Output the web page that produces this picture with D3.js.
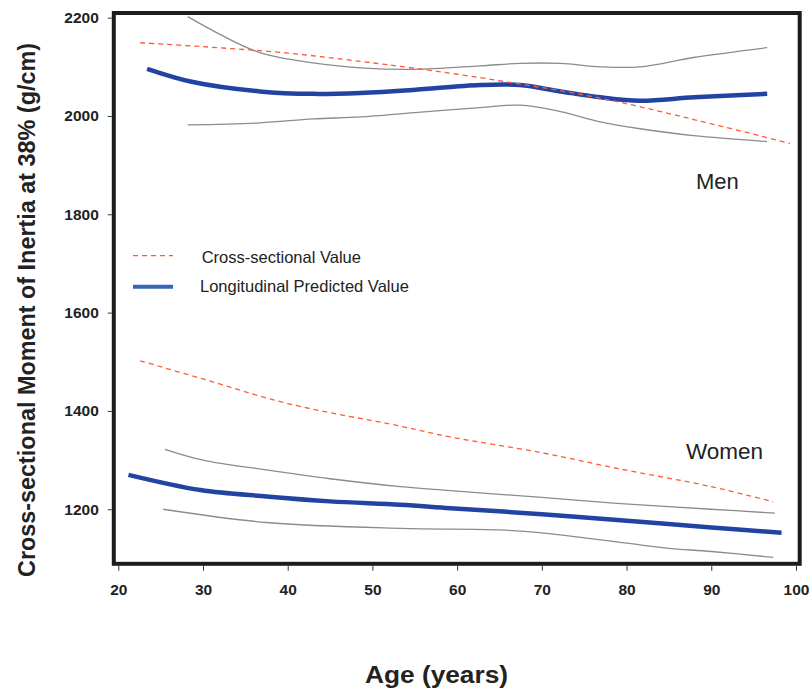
<!DOCTYPE html>
<html>
<head>
<meta charset="utf-8">
<script src="https://cdn.jsdelivr.net/npm/d3@7/dist/d3.min.js"></script>
<style>
  html, body { margin: 0; padding: 0; background: #ffffff; }
  svg { display: block; font-family: "Liberation Sans", Arial, sans-serif; }
</style>
</head>
<body>
<div id="chart"></div>
<script>
// values
const xTicks = [20, 30, 40, 50, 60, 70, 80, 90, 100];
const yTicks = [1200, 1400, 1600, 1800, 2000, 2200];

const menCrossAge = [22.6, 30, 40, 48.6, 55, 62.7, 67.4, 72, 78.4, 85, 90, 95.7, 99.3];
const menCrossVal = [2149, 2141, 2128, 2111, 2097, 2078, 2065, 2052, 2031, 2005, 1984, 1960, 1944];

const menLongAge = [23.4, 28.8, 36.7, 43, 48.6, 54.8, 62.7, 67.4, 72.2, 76.9, 81.6, 88, 96.6];
const menLongVal = [2096, 2069, 2050, 2045, 2047, 2053, 2063, 2063, 2050, 2038, 2031, 2038, 2045];

const menUpperAge = [28.2, 32, 36.7, 43, 48.6, 54.8, 62.7, 67.4, 72.2, 76.9, 81.6, 87.9, 96.6];
const menUpperVal = [2202, 2166, 2129, 2108, 2098, 2095, 2102, 2107, 2107, 2100, 2100, 2119, 2139];

const menLowerAge = [28.2, 36.7, 43, 48.6, 55, 62.7, 67.4, 72.2, 76.9, 81.6, 87.9, 96.6];
const menLowerVal = [1982, 1986, 1994, 1998, 2007, 2017, 2022, 2009, 1988, 1974, 1960, 1948];

const womenCrossAge = [22.6, 30, 40, 53.3, 59.2, 70, 78.9, 90, 97.3];
const womenCrossVal = [1502, 1465, 1415, 1369, 1347, 1315, 1283, 1246, 1215];

const womenLongAge = [21.2, 29.7, 37.5, 45, 53.3, 59.2, 70, 78.9, 90, 98.3];
const womenLongVal = [1270, 1239, 1226, 1216, 1209, 1202, 1190, 1178, 1163, 1152];

const womenUpperAge = [25.5, 30, 37.5, 45, 53.3, 59.2, 70, 78.9, 90, 97.5];
const womenUpperVal = [1322, 1300, 1280, 1262, 1246, 1238, 1224, 1212, 1200, 1192];

const womenLowerAge = [25.3, 37.5, 53.3, 65, 70, 80, 84.8, 90, 97.3];
const womenLowerVal = [1200, 1173, 1161, 1158, 1152, 1131, 1121, 1114, 1102];

const width = 812;
const height = 692;
const plot = { left: 113.8, right: 799.7, top: 13, bottom: 563.8 };

const svg = d3.select('#chart')
  .append('svg')
  .attr('width', width)
  .attr('height', height);

const x = d3.scaleLinear().domain([19.47, 100.44]).range([plot.left, plot.right]);
const y = d3.scaleLinear().domain([1089, 2209.5]).range([plot.bottom, plot.top]);

const zip = (ages, vals) => ages.map((a, i) => [a, vals[i]]);

const line = d3.line()
  .x(d => x(d[0]))
  .y(d => y(d[1]))
  .curve(d3.curveCatmullRom.alpha(0.5));

// axes (ticks outward, no domain line, the frame is drawn separately)
const xAxis = svg.append('g')
  .attr('transform', `translate(0,${plot.bottom + 2})`)
  .call(d3.axisBottom(x).tickValues(xTicks).tickFormat(d3.format('d'))
    .tickSize(5).tickPadding(13).tickSizeOuter(0));

const yAxis = svg.append('g')
  .attr('transform', `translate(${plot.left - 2},0)`)
  .call(d3.axisLeft(y).tickValues(yTicks).tickFormat(d3.format('d'))
    .tickSize(4).tickPadding(9).tickSizeOuter(0));

[xAxis, yAxis].forEach(g => {
  g.select('.domain').remove();
  g.selectAll('.tick line').attr('stroke', '#333').attr('stroke-width', 1);
  g.selectAll('.tick text')
    .attr('fill', '#222')
    .style('font-size', '15.5px')
    .style('font-weight', 'bold')
    .style('font-family', '"Liberation Sans", Arial, sans-serif');
});

// confidence bands (grey)
const grey = [
  zip(menUpperAge, menUpperVal),
  zip(menLowerAge, menLowerVal),
  zip(womenUpperAge, womenUpperVal),
  zip(womenLowerAge, womenLowerVal)
];
svg.selectAll('.band')
  .data(grey)
  .enter()
  .append('path')
  .attr('class', 'band')
  .attr('d', line)
  .attr('fill', 'none')
  .attr('stroke', '#8c8c8c')
  .attr('stroke-width', 1.3);

// longitudinal predicted
svg.selectAll('.long')
  .data([zip(menLongAge, menLongVal), zip(womenLongAge, womenLongVal)])
  .enter()
  .append('path')
  .attr('class', 'long')
  .attr('d', line)
  .attr('fill', 'none')
  .attr('stroke', '#2343a3')
  .attr('stroke-width', 4.5)
  .attr('stroke-linecap', 'butt');

// cross-sectional
svg.selectAll('.cross')
  .data([zip(menCrossAge, menCrossVal), zip(womenCrossAge, womenCrossVal)])
  .enter()
  .append('path')
  .attr('class', 'cross')
  .attr('d', line)
  .attr('fill', 'none')
  .attr('stroke', '#ff5a36')
  .attr('stroke-width', 1.3)
  .attr('stroke-dasharray', '5,4');

// frame
svg.append('rect')
  .attr('x', plot.left)
  .attr('y', plot.top)
  .attr('width', plot.right - plot.left)
  .attr('height', plot.bottom - plot.top)
  .attr('fill', 'none')
  .attr('stroke', '#1c1c1c')
  .attr('stroke-width', 4);

// legend
const legend = svg.append('g');
legend.append('line')
  .attr('x1', 133).attr('x2', 173).attr('y1', 255.7).attr('y2', 255.7)
  .attr('stroke', '#ff5a36').attr('stroke-width', 1.3).attr('stroke-dasharray', '5,4');
legend.append('text')
  .attr('x', 201.7).attr('y', 262.5)
  .attr('fill', '#222')
  .style('font-size', '16.5px')
  .text('Cross-sectional Value');
legend.append('line')
  .attr('x1', 133).attr('x2', 173).attr('y1', 286.7).attr('y2', 286.7)
  .attr('stroke', '#3366b8').attr('stroke-width', 4);
legend.append('text')
  .attr('x', 200).attr('y', 291.5)
  .attr('fill', '#222')
  .style('font-size', '16.5px')
  .text('Longitudinal Predicted Value');

// group labels
svg.append('text')
  .attr('x', 696).attr('y', 189.3)
  .attr('fill', '#222')
  .style('font-size', '22px')
  .text('Men');
svg.append('text')
  .attr('x', 686).attr('y', 459)
  .attr('fill', '#222')
  .style('font-size', '22.5px')
  .text('Women');

// axis titles
svg.append('text')
  .attr('x', 436.5).attr('y', 683)
  .attr('text-anchor', 'middle')
  .attr('fill', '#222')
  .attr('textLength', 143)
  .attr('lengthAdjust', 'spacingAndGlyphs')
  .style('font-size', '23px')
  .style('font-weight', 'bold')
  .text('Age (years)');

svg.append('text')
  .attr('transform', 'translate(35,310) rotate(-90)')
  .attr('text-anchor', 'middle')
  .attr('fill', '#222')
  .attr('textLength', 534)
  .attr('lengthAdjust', 'spacingAndGlyphs')
  .style('font-size', '23px')
  .style('font-weight', 'bold')
  .text('Cross-sectional Moment of Inertia at 38% (g/cm)');
</script>
</body>
</html>
